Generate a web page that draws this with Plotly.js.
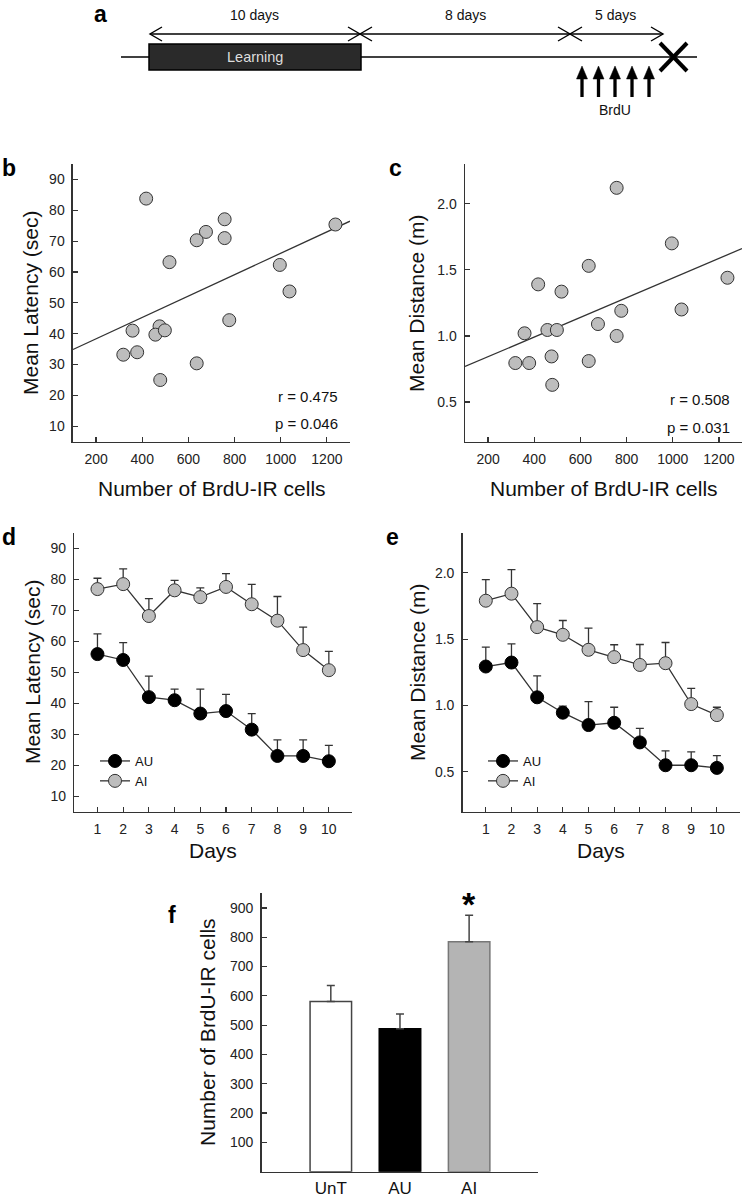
<!DOCTYPE html>
<html>
<head>
<meta charset="utf-8">
<script src="https://cdn.plot.ly/plotly-3.0.1.min.js"></script>
<style>html,body{margin:0;padding:0;background:#fff}</style>
</head>
<body>
<div id="plot" style="width:744px;height:1200px"></div>
<script>
// b, c: one point per animal
const cells = [417, 757, 676, 636, 757, 518, 1237, 996, 1038, 777, 358, 475, 457, 498, 318, 378, 636, 478]
const latency = [83.8, 77.1, 73.0, 70.3, 71.0, 63.2, 75.4, 62.3, 53.7, 44.4, 41.0, 42.4, 39.7, 41.1, 33.2, 34.0, 30.4, 25.0]
const distance = [1.39, 2.12, 1.09, 1.53, 1.00, 1.335, 1.44, 1.70, 1.20, 1.19, 1.02, 0.845, 1.045, 1.045, 0.795, 0.795, 0.81, 0.63]
const statsB = ['r = 0.475', 'p = 0.046']
const statsC = ['r = 0.508', 'p = 0.031']
const cellTicks = [200, 400, 600, 800, 1000, 1200]
const latencyTicks = [10, 20, 30, 40, 50, 60, 70, 80, 90]
const distanceTicks = [0.5, 1.0, 1.5, 2.0]

// d, e: learning curves (mean and SEM, drawn upward only)
const days = [1, 2, 3, 4, 5, 6, 7, 8, 9, 10]
const latAU = [55.9, 54.0, 42.0, 41.0, 36.7, 37.5, 31.5, 23.0, 23.0, 21.3]
const latAUsem = [6.5, 5.6, 6.8, 3.6, 7.9, 5.4, 5.2, 5.2, 5.2, 5.1]
const latAI = [76.9, 78.5, 68.2, 76.5, 74.3, 77.6, 72.0, 66.7, 57.2, 50.7]
const latAIsem = [3.5, 4.9, 5.6, 3.2, 3.0, 4.3, 6.4, 7.8, 7.4, 6.1]
const distAU = [1.294, 1.324, 1.062, 0.946, 0.853, 0.87, 0.722, 0.55, 0.55, 0.53]
const distAUsem = [0.146, 0.141, 0.161, 0.05, 0.176, 0.117, 0.106, 0.108, 0.10, 0.093]
const distAI = [1.79, 1.843, 1.591, 1.533, 1.42, 1.365, 1.306, 1.319, 1.011, 0.928]
const distAIsem = [0.159, 0.182, 0.177, 0.108, 0.164, 0.093, 0.154, 0.156, 0.119, 0.059]

// f: BrdU-IR cells per group
const groups = ['UnT', 'AU', 'AI']
const brdu = [581, 488, 785]
const brduSem = [54, 50, 90]
const brduTicks = [100, 200, 300, 400, 500, 600, 700, 800, 900]

// a: timeline text
const spans = ['10 days', '8 days', '5 days']

const W = 744, H = 1200
const FONT = 'Liberation Sans, Arial, sans-serif'
const px = (x) => x / W
const py = (y) => 1 - y / H
const zeros = (a) => a.map(() => 0)

const fit = (xs, ys, x0, x1) => {
  const n = xs.length
  const mx = xs.reduce((s, v) => s + v, 0) / n
  const my = ys.reduce((s, v) => s + v, 0) / n
  let sxy = 0, sxx = 0
  xs.forEach((x, i) => { sxy += (x - mx) * (ys[i] - my); sxx += (x - mx) * (x - mx) })
  const k = sxy / sxx
  return { x: [x0, x1], y: [my + k * (x0 - mx), my + k * (x1 - mx)] }
}

const grayDot = { size: 13, color: '#bdbdbd', line: { color: '#333', width: 1 } }
const blackDot = { size: 13, color: '#000', line: { color: '#000', width: 1 } }
const errStyle = (sem) => ({ type: 'data', symmetric: false, array: sem, arrayminus: zeros(sem), color: '#333', thickness: 1.3, width: 4 })

const fitB = fit(cells, latency, 100, 1300)
const fitC = fit(cells, distance, 100, 1300)

let data = [
  { x: fitB.x, y: fitB.y, mode: 'lines', line: { color: '#333', width: 1.3 }, xaxis: 'x', yaxis: 'y', showlegend: false, hoverinfo: 'skip' },
  { x: cells, y: latency, mode: 'markers', marker: grayDot, xaxis: 'x', yaxis: 'y', showlegend: false },
  { x: fitC.x, y: fitC.y, mode: 'lines', line: { color: '#333', width: 1.3 }, xaxis: 'x2', yaxis: 'y2', showlegend: false, hoverinfo: 'skip' },
  { x: cells, y: distance, mode: 'markers', marker: grayDot, xaxis: 'x2', yaxis: 'y2', showlegend: false },

  { x: days, y: latAU, name: 'AU', mode: 'lines+markers', line: { color: '#333', width: 1.3 }, marker: blackDot, error_y: errStyle(latAUsem), xaxis: 'x3', yaxis: 'y3', legend: 'legend' },
  { x: days, y: latAI, name: 'AI', mode: 'lines+markers', line: { color: '#333', width: 1.3 }, marker: grayDot, error_y: errStyle(latAIsem), xaxis: 'x3', yaxis: 'y3', legend: 'legend' },
  { x: days, y: distAU, name: 'AU', mode: 'lines+markers', line: { color: '#333', width: 1.3 }, marker: blackDot, error_y: errStyle(distAUsem), xaxis: 'x4', yaxis: 'y4', legend: 'legend2' },
  { x: days, y: distAI, name: 'AI', mode: 'lines+markers', line: { color: '#333', width: 1.3 }, marker: grayDot, error_y: errStyle(distAIsem), xaxis: 'x4', yaxis: 'y4', legend: 'legend2' },

  { x: groups, y: brdu, type: 'bar', width: 0.6,
    marker: { color: ['#ffffff', '#000000', '#b4b4b4'], line: { color: ['#444', '#000', '#777'], width: 1.5 } },
    error_y: { type: 'data', symmetric: false, array: brduSem, arrayminus: zeros(brduSem), color: '#444', thickness: 1.5, width: 4 },
    xaxis: 'x5', yaxis: 'y5', showlegend: false }
]

const ax = (domain, anchor, range, extra) => Object.assign({
  domain: domain, anchor: anchor, range: range,
  showline: true, linecolor: '#333', linewidth: 1.5,
  ticks: 'inside', ticklen: 5, tickwidth: 1.2, tickcolor: '#333',
  ticklabelstandoff: 4,
  showgrid: false, zeroline: false, fixedrange: true,
  tickfont: { size: 14, color: '#222' }
}, extra)

// panel a drawing
const chevron = (x, dir) => ({
  type: 'path', xref: 'paper', yref: 'paper',
  path: `M ${px(x + dir * 12)},${py(27)} L ${px(x)},${py(34)} L ${px(x + dir * 12)},${py(41)}`,
  line: { color: '#000', width: 1.4 }
})
const hline = (x0, x1, y, w) => ({ type: 'line', xref: 'paper', yref: 'paper', x0: px(x0), x1: px(x1), y0: py(y), y1: py(y), line: { color: '#000', width: w } })

let shapes = [
  hline(121, 697, 57, 1.6),
  { type: 'rect', xref: 'paper', yref: 'paper', x0: px(149), x1: px(361), y0: py(70), y1: py(44), fillcolor: '#2a2a2a', line: { color: '#000', width: 1.5 } },
  hline(150, 663, 34, 1.4),
  chevron(150, 1), chevron(360, -1), chevron(360, 1), chevron(570, -1), chevron(570, 1), chevron(663, -1),
  { type: 'line', xref: 'paper', yref: 'paper', x0: px(660), x1: px(687), y0: py(43), y1: py(71), line: { color: '#000', width: 4 } },
  { type: 'line', xref: 'paper', yref: 'paper', x0: px(660), x1: px(687), y0: py(71), y1: py(43), line: { color: '#000', width: 4 } }
]
;[582, 598.5, 615, 632, 649].forEach((x) => {
  shapes.push({ type: 'line', xref: 'paper', yref: 'paper', x0: px(x), x1: px(x), y0: py(97), y1: py(77), line: { color: '#000', width: 3.3 } })
  shapes.push({ type: 'path', xref: 'paper', yref: 'paper', path: `M ${px(x - 5.5)},${py(79)} L ${px(x + 5.5)},${py(79)} L ${px(x)},${py(66)} Z`, fillcolor: '#000', line: { color: '#000', width: 0.5 } })
})

const note = (text, x, y, opts) => Object.assign({
  text: text, xref: 'paper', yref: 'paper', x: px(x), y: py(y),
  xanchor: 'center', yanchor: 'middle', showarrow: false,
  font: { size: 14, color: '#111' }
}, opts)
const panel = (text, x, y) => note(text, x, y, { font: { size: 23, color: '#000', family: FONT, weight: 'bold' }, text: '<b>' + text + '</b>' })
const ytitle = (text, x, y) => note(text, x, y, { textangle: -90, font: { size: 21, color: '#111' } })

let annotations = [
  note(spans[0], 255, 15), note(spans[1], 465, 15), note(spans[2], 615, 15),
  note('Learning', 255, 57, { font: { size: 14.5, color: '#dddddd' } }),
  note('BrdU', 615, 110),
  panel('a', 100, 14), panel('b', 9, 168), panel('c', 395, 168),
  panel('d', 9, 537), panel('e', 392, 537), panel('f', 172, 915),

  ytitle('Mean Latency (sec)', 31, 303), ytitle('Mean Distance (m)', 417, 303),
  ytitle('Mean Latency (sec)', 32, 672), ytitle('Mean Distance (m)', 417, 672),
  ytitle('Number of BrdU-IR cells', 207, 1032),
  note('Number of BrdU-IR cells', 211.5, 489, { font: { size: 21, color: '#111' } }),
  note('Number of BrdU-IR cells', 603.5, 489, { font: { size: 21, color: '#111' } }),
  note('Days', 213, 850, { font: { size: 21, color: '#111' } }),
  note('Days', 601, 850, { font: { size: 21, color: '#111' } }),

  note(statsB[0], 340, 396, { xanchor: 'right', font: { size: 15, color: '#111' } }),
  note(statsB[1], 340, 424, { xanchor: 'right', font: { size: 15, color: '#111' } }),
  note(statsC[0], 732, 399, { xanchor: 'right', font: { size: 15, color: '#111' } }),
  note(statsC[1], 732, 427, { xanchor: 'right', font: { size: 15, color: '#111' } }),

  { text: '<b>*</b>', x: groups[2], y: brdu[2] + brduSem[2], xref: 'x5', yref: 'y5', xanchor: 'center', yanchor: 'bottom', yshift: -10, showarrow: false, font: { size: 34, color: '#000' } }
]

const legendStyle = (x) => ({ x: px(x), y: py(746), xanchor: 'left', yanchor: 'top', bgcolor: 'rgba(0,0,0,0)', borderwidth: 0, font: { size: 13, color: '#111' }, itemwidth: 30, tracegroupgap: 0, traceorder: 'normal' })

const layout = {
  width: W, height: H,
  margin: { l: 0, r: 0, t: 0, b: 0 },
  paper_bgcolor: '#ffffff', plot_bgcolor: 'rgba(0,0,0,0)',
  font: { family: FONT, color: '#111', size: 14 },
  showlegend: true,
  hovermode: 'closest',
  xaxis: ax([0.0981, 0.4704], 'y', [100, 1300], { tickvals: cellTicks }),
  yaxis: ax([0.6319, 0.8633], 'x', [5, 95], { tickvals: latencyTicks }),
  xaxis2: ax([0.625, 0.9973], 'y2', [100, 1300], { tickvals: cellTicks }),
  yaxis2: ax([0.6319, 0.8633], 'x2', [0.2, 2.3], { tickvals: distanceTicks, tickformat: '.1f' }),
  xaxis3: ax([0.0999, 0.4731], 'y3', [0.1, 10.9], { tickvals: days }),
  yaxis3: ax([0.3236, 0.5558], 'x3', [5, 95], { tickvals: latencyTicks }),
  xaxis4: ax([0.6219, 0.9946], 'y4', [0.1, 10.9], { tickvals: days }),
  yaxis4: ax([0.3236, 0.5558], 'x4', [0.2, 2.3], { tickvals: distanceTicks, tickformat: '.1f' }),
  xaxis5: ax([0.3517, 0.7235], 'y5', [-1, 3], { type: 'category', categoryorder: 'array', categoryarray: groups, ticks: '', ticklabelstandoff: 0, tickfont: { size: 17, color: '#111' } }),
  yaxis5: ax([0.0236, 0.2556], 'x5', [0, 950], { tickvals: brduTicks }),
  legend: legendStyle(95),
  legend2: legendStyle(483),
  shapes: shapes,
  annotations: annotations
}

Plotly.newPlot('plot', data, layout, { displayModeBar: false, staticPlot: true })
</script>
</body>
</html>
